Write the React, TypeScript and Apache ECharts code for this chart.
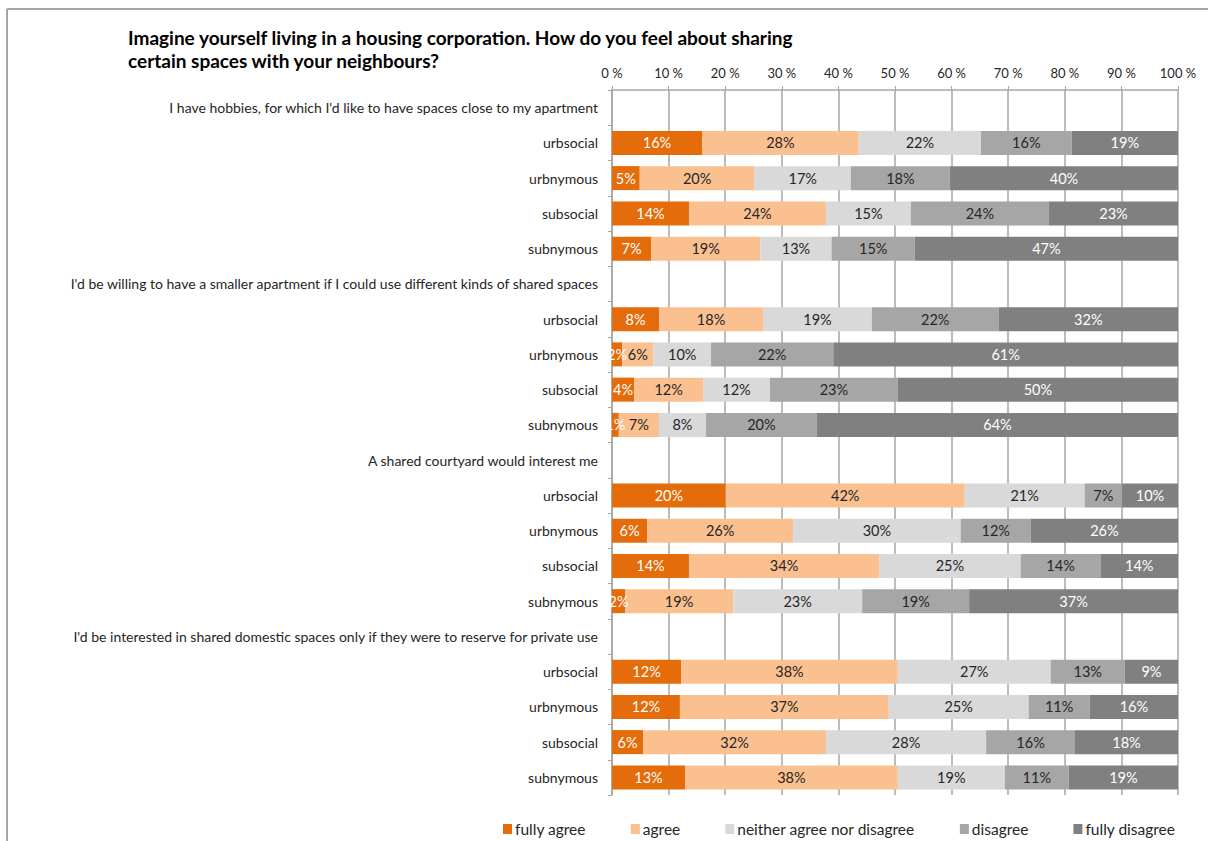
import React, { useEffect, useRef } from "react";
import * as echarts from "echarts";

const categories = [
  "I have hobbies, for which I'd like to have spaces close to my apartment",
  "urbsocial", "urbnymous", "subsocial", "subnymous",
  "I'd be willing to have a smaller apartment if I could use different kinds of shared spaces",
  "urbsocial ", "urbnymous ", "subsocial ", "subnymous ",
  "A shared courtyard would interest me",
  "urbsocial  ", "urbnymous  ", "subsocial  ", "subnymous  ",
  "I'd be interested in shared domestic spaces only if they were to reserve for private use",
  "urbsocial   ", "urbnymous   ", "subsocial   ", "subnymous   ",
];

const seriesNames = ["fully agree", "agree", "neither agree nor disagree", "disagree", "fully disagree"];

const fullyAgree = [null, 15.9, 4.9, 13.6, 6.9, null, 8.3, 1.8, 3.9, 1.2, null, 20.1, 6.2, 13.6, 2.3, null, 12.2, 12.0, 5.5, 12.9];
const agree = [null, 27.7, 20.3, 24.2, 19.3, null, 18.4, 5.5, 12.2, 7.1, null, 42.2, 25.8, 33.6, 19.1, null, 38.3, 36.9, 32.3, 37.6];
const neither = [null, 21.6, 17.0, 15.0, 12.6, null, 19.2, 10.2, 11.8, 8.3, null, 21.2, 29.6, 25.0, 22.8, null, 27.0, 24.7, 28.3, 18.9];
const disagree = [null, 16.0, 17.5, 24.4, 14.7, null, 22.4, 21.6, 22.6, 19.6, null, 6.6, 12.4, 14.1, 18.9, null, 13.1, 10.8, 15.7, 11.3];
const fullyDisagree = [null, 18.8, 40.3, 22.8, 46.5, null, 31.7, 60.9, 49.5, 63.8, null, 9.9, 26.0, 13.7, 36.9, null, 9.4, 15.6, 18.2, 19.3];

const xTicks = [0, 10, 20, 30, 40, 50, 60, 70, 80, 90, 100];

const colors = ["#E46C0A", "#FAC090", "#D9D9D9", "#A6A6A6", "#808080"];
const labelColors = ["#ffffff", "#262626", "#262626", "#262626", "#ffffff"];

const FONT = "Lato, 'Open Sans', sans-serif";

export default function App() {
  const ref = useRef<HTMLDivElement>(null);
  useEffect(() => {
    if (!ref.current) return;
    const chart = echarts.init(ref.current, null, { renderer: "svg" });
    const allData = [fullyAgree, agree, neither, disagree, fullyDisagree];
    chart.setOption({
      animation: false,
      textStyle: { fontFamily: FONT },
      graphic: [
        { type: "line", shape: { x1: 7, y1: 9, x2: 1208, y2: 9 }, style: { stroke: "#a6a6a6", lineWidth: 2 } },
        { type: "line", shape: { x1: 7, y1: 9, x2: 7, y2: 841 }, style: { stroke: "#a6a6a6", lineWidth: 2 } },
        {
          type: "text",
          left: 128,
          top: 26,
          style: {
            text: "Imagine yourself living in a housing corporation. How do you feel about sharing\ncertain spaces with your neighbours?",
            font: `bold 19px ${FONT}`,
            fill: "#000000",
            lineHeight: 23,
          },
        },
      ],
      legend: {
        left: 498,
        top: 816,
        itemWidth: 9,
        itemHeight: 10,
        itemGap: 45,
        icon: "rect",
        textStyle: { fontSize: 15.5, color: "#262626", fontFamily: FONT, padding: [0, 0, 0, -2] },
        data: seriesNames,
      },
      grid: { left: 612, right: 30, top: 90, bottom: 46, containLabel: false },
      xAxis: {
        type: "value",
        position: "top",
        min: 0,
        max: 100,
        interval: 10,
        axisLine: { show: true, lineStyle: { color: "#a6a6a6", width: 1.5 } },
        axisTick: { show: true, length: 4, inside: false, lineStyle: { color: "#a6a6a6" } },
        axisLabel: {
          margin: 11,
          fontSize: 13,
          color: "#262626",
          formatter: (v: number) => (xTicks.includes(v) ? `${v} %` : ""),
        },
        splitLine: { show: true, lineStyle: { color: "#a6a6a6", width: 1.5 } },
      },
      yAxis: {
        type: "category",
        inverse: true,
        data: categories,
        axisLine: { show: true, lineStyle: { color: "#a6a6a6", width: 1.5 } },
        axisTick: { show: true, length: 4, lineStyle: { color: "#a6a6a6" } },
        axisLabel: {
          margin: 14,
          fontSize: 14,
          color: "#262626",
          formatter: (v: string) => v.trim(),
        },
      },
      series: seriesNames.map((name, i) => ({
        name,
        type: "bar",
        stack: "total",
        barWidth: 24,
        itemStyle: { color: colors[i] },
        label: {
          show: true,
          position: "inside",
          color: labelColors[i],
          fontSize: 14.5,
          fontFamily: FONT,
          formatter: (p: any) => (p.value == null ? "" : `${Math.round(p.value)}%`),
        },
        data: allData[i],
      })),
    });
    return () => chart.dispose();
  }, []);
  return (
    <div
      ref={ref}
      style={{ position: "fixed", left: 0, top: 0, width: 1208, height: 841, background: "#ffffff" }}
    />
  );
}
